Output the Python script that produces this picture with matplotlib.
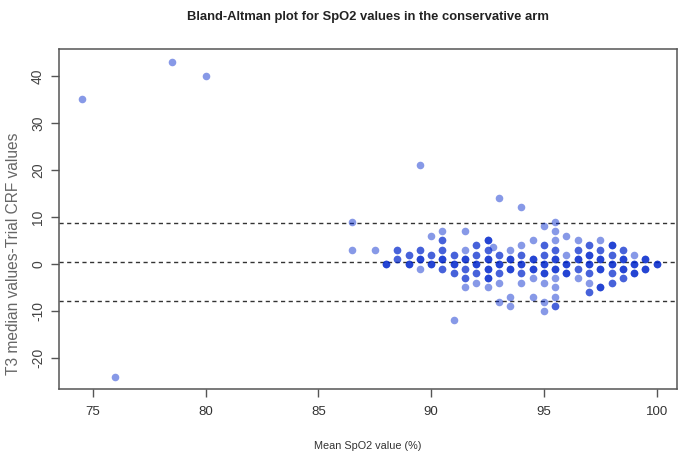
import numpy as np
import matplotlib
matplotlib.use("Agg")
import matplotlib.pyplot as plt

plt.rcParams['font.family'] = ['Liberation Sans Narrow', 'Liberation Sans', 'DejaVu Sans']

# Mean SpO2 (x), difference (y), number of overlapping observations (count)
mean_spo2 = [74.5, 76, 78.5, 80, 86.5, 86.5, 87.5,
             88,
             88.5, 88.5,
             89, 89,
             89.5, 89.5, 89.5, 89.5,
             90, 90, 90,
             90.5, 90.5, 90.5, 90.5, 90.5,
             91, 91, 91, 91,
             91.5, 91.5, 91.5, 91.5, 91.5, 91.5,
             92, 92, 92, 92, 92,
             92.5, 92.5, 92.5, 92.5, 92.5, 92.5,
             92.75,
             93, 93, 93, 93, 93, 93,
             93.5, 93.5, 93.5, 93.5, 93.5,
             94, 94, 94, 94, 94, 94,
             94.5, 94.5, 94.5, 94.5, 94.5,
             95, 95, 95, 95, 95, 95, 95, 95,
             95.5, 95.5, 95.5, 95.5, 95.5, 95.5, 95.5, 95.5, 95.5, 95.5,
             96, 96, 96, 96,
             96.5, 96.5, 96.5, 96.5, 96.5,
             97, 97, 97, 97, 97, 97,
             97.5, 97.5, 97.5, 97.5, 97.5,
             98, 98, 98, 98, 98,
             98.5, 98.5, 98.5, 98.5,
             99, 99, 99,
             99.5, 99.5,
             100]
difference = [35, -24, 43, 40, 9, 3, 3,
              0,
              3, 1,
              2, 0,
              21, 3, 1, -1,
              6, 2, 0,
              7, 5, 3, 1, -1,
              2, 0, -2, -12,
              7, 3, 1, -1, -3, -5,
              4, 2, 0, -2, -4,
              5, 3, 1, -1, -3, -5,
              3.5,
              14, 2, 0, -2, -4, -8,
              3, 1, -1, -7, -9,
              12, 4, 2, 0, -2, -4,
              5, 1, -1, -3, -7,
              8, 4, 2, 0, -2, -4, -8, -10,
              9, 7, 5, 3, 1, -1, -3, -5, -7, -9,
              6, 2, 0, -2,
              5, 3, 1, -1, -3,
              4, 2, 0, -2, -4, -6,
              5, 3, 1, -1, -5,
              4, 2, 0, -2, -4,
              3, 1, -1, -3,
              2, 0, -2,
              1, -1,
              0]
count = [1, 1, 1, 1, 1, 1, 1,
         3,
         2, 2,
         2, 3,
         1, 2, 3, 1,
         1, 2, 3,
         1, 2, 2, 3, 2,
         2, 3, 2, 1,
         1, 1, 3, 2, 2, 1,
         2, 2, 3, 2, 1,
         3, 2, 3, 3, 3, 1,
         1,
         1, 2, 3, 2, 1, 1,
         1, 3, 3, 1, 1,
         1, 1, 2, 3, 2, 1,
         1, 3, 3, 1, 1,
         1, 2, 2, 3, 3, 1, 1, 1,
         1, 1, 1, 2, 3, 3, 1, 1, 1, 2,
         1, 1, 3, 3,
         1, 2, 3, 2, 1,
         2, 3, 3, 2, 1, 2,
         1, 2, 3, 3, 3,
         3, 2, 3, 2, 2,
         2, 3, 3, 2,
         1, 3, 3,
         3, 3,
         3]

bias = 0.4
upper_loa = 8.8
lower_loa = -7.8

x_ticks = [75, 80, 85, 90, 95, 100]
y_ticks = [-20, -10, 0, 10, 20, 30, 40]

title = "Bland-Altman plot for SpO2 values in the conservative arm"
xlabel = "Mean SpO2 value (%)"
ylabel = "T3 median values-Trial CRF values"

x = np.repeat(np.array(mean_spo2, float), count)
y = np.repeat(np.array(difference, float), count)

fig = plt.figure(figsize=(6.78, 4.59), dpi=100)
ax = fig.add_axes([59/678, (459-389)/459, (677-59)/678, (389-49)/459])

ax.scatter(x, y, s=30, color=(0.0, 0.15, 0.8), alpha=0.47, linewidths=0, zorder=3)

for v in (upper_loa, bias, lower_loa):
    ax.axhline(v, color='#333333', lw=1.0, ls=(0, (3, 2.5)), zorder=2)

ax.set_xlim(73.5, 100.9)
ax.set_ylim(-26.6, 45.7)

for s in ax.spines.values():
    s.set_color('#555555')
    s.set_linewidth(1.1)

ax.set_xticks(x_ticks)
ax.set_yticks(y_ticks)
ax.set_xticklabels([str(t) for t in x_ticks], fontsize=9.5, color='#333333')
ax.set_yticklabels([str(t) for t in y_ticks], fontsize=10, color='#444444',
                   rotation=90, va='center')
ax.tick_params(axis='both', direction='out', length=6, width=1, color='#555555',
               pad=6)
ax.tick_params(axis='y', pad=4)

fig.text(368/678, 1 - 17/459, title, ha='center', va='center',
         fontsize=9.4, fontweight='bold', color='#222222')
fig.text(368/678, 1 - 446/459, xlabel, ha='center', va='center',
         fontsize=7.8, color='#333333')
fig.text(14/678, 1 - 254/459, ylabel, ha='center', va='center',
         fontsize=11.2, rotation=90, color='#666666',
         family=['Liberation Sans', 'DejaVu Sans'])

fig.savefig('out.png', dpi=100, facecolor='white')
